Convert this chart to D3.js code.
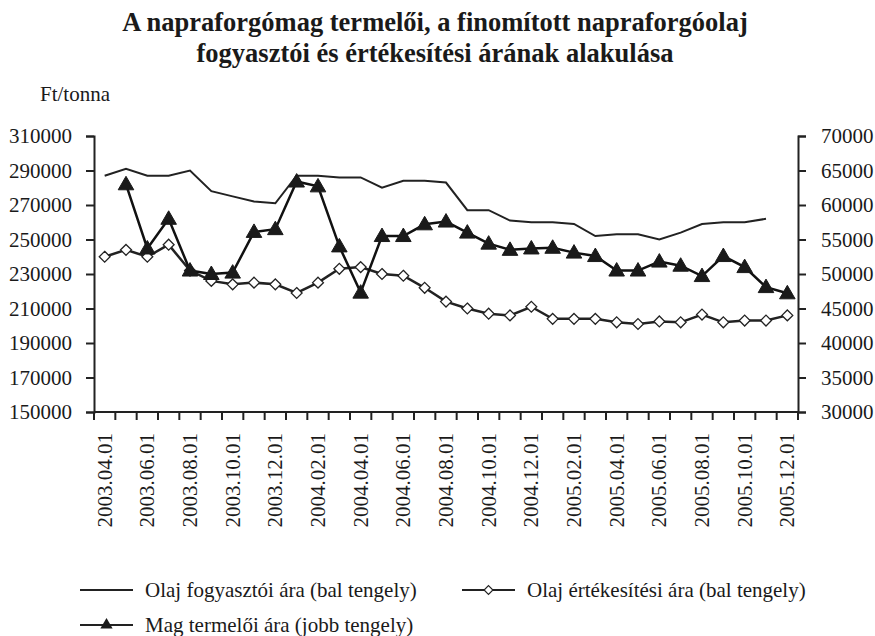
<!DOCTYPE html>
<html>
<head>
<meta charset="utf-8">
<script src="https://cdn.jsdelivr.net/npm/d3@7"></script>
<style>
  body { margin: 0; background: #fff; }
</style>
</head>
<body>
<svg id="chart" width="875" height="636"></svg>
<script>
"use strict";

// Data:
var months = ["2003.04.01","2003.05.01","2003.06.01","2003.07.01","2003.08.01","2003.09.01",
    "2003.10.01","2003.11.01","2003.12.01","2004.01.01","2004.02.01","2004.03.01",
    "2004.04.01","2004.05.01","2004.06.01","2004.07.01","2004.08.01","2004.09.01",
    "2004.10.01","2004.11.01","2004.12.01","2005.01.01","2005.02.01","2005.03.01",
    "2005.04.01","2005.05.01","2005.06.01","2005.07.01","2005.08.01","2005.09.01",
    "2005.10.01","2005.11.01","2005.12.01"];

// Olaj fogyasztói ára (bal tengely)
var fogyasztoi = [287000,291000,287000,287000,290000,278000,275000,272000,271000,287000,
    287000,286000,286000,280000,284000,284000,283000,267000,267000,261000,
    260000,260000,259000,252000,253000,253000,250000,254000,259000,260000,
    260000,262000,null];

// Olaj értékesítési ára (bal tengely)
var ertekesitesi = [240000,244000,240000,247000,232000,226000,224000,225000,224000,219000,
    225000,233000,234000,230000,229000,222000,214000,210000,207000,206000,
    211000,204000,204000,204000,202000,201000,202500,202000,206500,202000,
    203000,203000,206000];

// Mag termelői ára (jobb tengely)
var mag = [null,63000,53700,58000,50500,50000,50200,56100,56500,63400,
    62700,54000,47300,55500,55500,57200,57600,56000,54400,53500,
    53700,53800,53100,52600,50500,50500,51800,51200,49700,52600,
    51000,48100,47200];

var leftTicks = [150000,170000,190000,210000,230000,250000,270000,290000,310000];
var rightTicks = [30000,35000,40000,45000,50000,55000,60000,65000,70000];

var titleLines = ["A napraforgómag termelői, a finomított napraforgóolaj",
    "fogyasztói és értékesítési árának alakulása"];

var legendItems = [
    {name: "Olaj fogyasztói ára (bal tengely)", marker: "none"},
    {name: "Olaj értékesítési ára (bal tengely)", marker: "diamond"},
    {name: "Mag termelői ára (jobb tengely)", marker: "triangle"}
];

// Layout
var plotLeft = 94, plotRight = 798, plotTop = 136, plotBottom = 412;
var ink = "#222";
var serif = "Liberation Serif";

var svg = d3.select("#chart");

var x = d3.scaleBand().domain(months).range([plotLeft, plotRight]).padding(0);
var yLeft = d3.scaleLinear().domain([150000, 310000]).range([plotBottom, plotTop]);
var yRight = d3.scaleLinear().domain([30000, 70000]).range([plotBottom, plotTop]);

function cx(i) { return x(months[i]) + x.bandwidth() / 2; }

// Title
svg.append("g").selectAll("text")
    .data(titleLines)
    .enter()
    .append("text")
    .attr("x", 435)
    .attr("y", function (d, i) { return 31 + i * 31; })
    .attr("text-anchor", "middle")
    .attr("font-family", serif)
    .attr("font-size", 26.5)
    .attr("font-weight", "bold")
    .attr("fill", "#1a1a1a")
    .text(function (d) { return d; });

svg.append("text")
    .attr("x", 40).attr("y", 101)
    .attr("font-family", serif)
    .attr("font-size", 21)
    .attr("fill", "#1a1a1a")
    .text("Ft/tonna");

// Left axis
var leftAxis = svg.append("g")
    .attr("transform", "translate(" + plotLeft + ",0)")
    .call(d3.axisLeft(yLeft).tickValues(leftTicks).tickSize(8).tickPadding(14).tickFormat(d3.format("d")));

// Right axis
var rightAxis = svg.append("g")
    .attr("transform", "translate(" + plotRight + ",0)")
    .call(d3.axisRight(yRight).tickValues(rightTicks).tickSize(8).tickPadding(15).tickFormat(d3.format("d")));

[leftAxis, rightAxis].forEach(function (ax) {
    ax.attr("font-family", serif).attr("font-size", 21);
    ax.select(".domain").attr("stroke", ink).attr("stroke-width", 2);
    ax.selectAll(".tick line").attr("stroke", ink).attr("stroke-width", 2);
    ax.selectAll(".tick text").attr("fill", "#1a1a1a").attr("font-family", serif);
});

// Bottom axis: ticks between categories, labels every second month
var bottom = svg.append("g");
bottom.append("line")
    .attr("x1", plotLeft).attr("x2", plotRight)
    .attr("y1", plotBottom).attr("y2", plotBottom)
    .attr("stroke", ink).attr("stroke-width", 2);

var edges = months.map(function (m) { return x(m); }).concat([plotRight]);
bottom.selectAll(".xtick")
    .data(edges)
    .enter()
    .append("line")
    .attr("class", "xtick")
    .attr("x1", function (d) { return d; })
    .attr("x2", function (d) { return d; })
    .attr("y1", plotBottom)
    .attr("y2", plotBottom + 8)
    .attr("stroke", ink).attr("stroke-width", 2);

bottom.selectAll(".xlabel")
    .data(months.filter(function (m, i) { return i % 2 === 0; }))
    .enter()
    .append("text")
    .attr("class", "xlabel")
    .attr("transform", function (d) {
        return "translate(" + (x(d) + x.bandwidth() / 2 + 7) + "," + (plotBottom + 21) + ") rotate(-90)";
    })
    .attr("text-anchor", "end")
    .attr("font-family", serif)
    .attr("font-size", 21)
    .attr("fill", "#1a1a1a")
    .text(function (d) { return d; });

// Lines
var lineLeft = d3.line()
    .defined(function (d) { return d != null; })
    .x(function (d, i) { return cx(i); })
    .y(function (d) { return yLeft(d); });

var lineRight = d3.line()
    .defined(function (d) { return d != null; })
    .x(function (d, i) { return cx(i); })
    .y(function (d) { return yRight(d); });

svg.append("path")
    .datum(fogyasztoi)
    .attr("d", lineLeft)
    .attr("fill", "none")
    .attr("stroke", ink)
    .attr("stroke-width", 2);

svg.append("path")
    .datum(ertekesitesi)
    .attr("d", lineLeft)
    .attr("fill", "none")
    .attr("stroke", ink)
    .attr("stroke-width", 2.5);

svg.append("path")
    .datum(mag)
    .attr("d", lineRight)
    .attr("fill", "none")
    .attr("stroke", "#111")
    .attr("stroke-width", 2.5);

var diamond = d3.symbol().type(d3.symbolDiamond2).size(75);
var triangle = d3.symbol().type(d3.symbolTriangle).size(105);

var ertPoints = ertekesitesi.map(function (v, i) { return {v: v, i: i}; })
    .filter(function (d) { return d.v != null; });

svg.append("g").selectAll("path")
    .data(ertPoints)
    .enter()
    .append("path")
    .attr("d", diamond)
    .attr("transform", function (d) {
        return "translate(" + cx(d.i) + "," + yLeft(d.v) + ")";
    })
    .attr("fill", "#fff")
    .attr("stroke", ink)
    .attr("stroke-width", 1.3);

var magPoints = mag.map(function (v, i) { return {v: v, i: i}; })
    .filter(function (d) { return d.v != null; });

svg.append("g").selectAll("path")
    .data(magPoints)
    .enter()
    .append("path")
    .attr("d", triangle)
    .attr("transform", function (d) {
        return "translate(" + cx(d.i) + "," + (yRight(d.v) + 1) + ")";
    })
    .attr("fill", "#1a1a1a")
    .attr("stroke", "#1a1a1a")
    .attr("stroke-width", 1);

// Legend
var legendPos = [{x: 80, y: 590}, {x: 462, y: 590}, {x: 80, y: 625}];
var legend = svg.append("g").selectAll("g")
    .data(legendItems)
    .enter()
    .append("g")
    .attr("transform", function (d, i) { return "translate(" + legendPos[i].x + "," + legendPos[i].y + ")"; });

legend.append("line")
    .attr("x1", 0).attr("x2", 53)
    .attr("y1", 0).attr("y2", 0)
    .attr("stroke", ink).attr("stroke-width", 2);

legend.filter(function (d) { return d.marker === "diamond"; })
    .append("path")
    .attr("d", d3.symbol().type(d3.symbolDiamond2).size(50))
    .attr("transform", "translate(26.5,0)")
    .attr("fill", "#fff").attr("stroke", ink).attr("stroke-width", 1.2);

legend.filter(function (d) { return d.marker === "triangle"; })
    .append("path")
    .attr("d", d3.symbol().type(d3.symbolTriangle).size(65))
    .attr("transform", "translate(26.5,0)")
    .attr("fill", "#1a1a1a");

legend.append("text")
    .attr("x", 65).attr("y", 7)
    .attr("font-family", serif)
    .attr("font-size", 21)
    .attr("fill", "#1a1a1a")
    .text(function (d) { return d.name; });
</script>
</body>
</html>
